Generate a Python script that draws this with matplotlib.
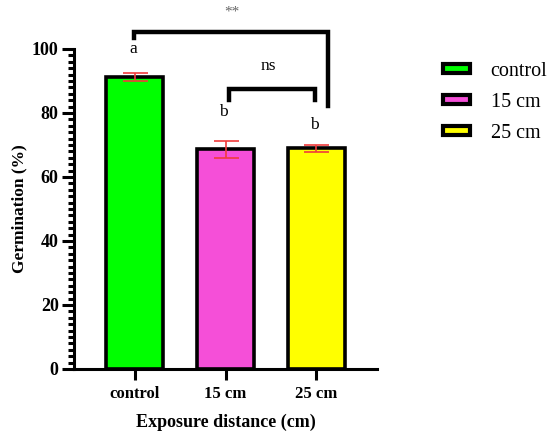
import matplotlib
matplotlib.use("Agg")
import matplotlib.pyplot as plt
from matplotlib.patches import Patch
from matplotlib.ticker import MultipleLocator

plt.rcParams['font.family'] = ['Liberation Serif', 'DejaVu Serif']

groups = ['control', '15 cm', '25 cm']
means = [91.3, 68.6, 68.9]
errs = [1.3, 2.6, 1.0]
colors = ['#00ff00', '#f54fd8', '#ffff00']
letters = ['a', 'b', 'b']
letter_y = [99.9, 80.4, 76.2]

fig = plt.figure(figsize=(5.5, 4.32), dpi=100)
ax = fig.add_axes([0.1345, 0.146, 0.551, 0.7407])

x = list(range(len(groups)))
ax.bar(x, means, width=0.63, color=colors, edgecolor='black', linewidth=2.6, zorder=2)
ax.errorbar(x, means, yerr=errs, fmt='none', ecolor='#f03c3c', elinewidth=1.2,
            capsize=9, capthick=1.2, zorder=3)

ax.set_xlim(-0.674, 2.674)
ax.set_ylim(0, 100)
ax.yaxis.set_major_locator(MultipleLocator(20))
ax.yaxis.set_minor_locator(MultipleLocator(2))
ax.set_xticks(x)
ax.set_xticklabels(groups, fontweight='bold', fontsize=12)
for lab in ax.get_yticklabels():
    lab.set_fontweight('bold')
    lab.set_fontsize(13)
ax.tick_params(axis='y', which='major', length=9, width=2.2, pad=2)
ax.tick_params(axis='y', which='minor', length=4, width=2.2)
ax.tick_params(axis='x', which='major', length=8, width=2.2, pad=4)
for s in ['top', 'right']:
    ax.spines[s].set_visible(False)
for s in ['left', 'bottom']:
    ax.spines[s].set_linewidth(2.2)

ax.set_ylabel('Germination (%)', fontweight='bold', fontsize=12.5, labelpad=3)
ax.set_xlabel('Exposure distance (cm)', fontweight='bold', fontsize=13, labelpad=9)

for xi, t, yl in zip(x, letters, letter_y):
    ax.text(xi - 0.02, yl, t, ha='center', va='center', fontsize=12.5)

# significance brackets
ax.plot([-0.01, -0.01, 2.13, 2.13], [103.3, 105.2, 105.2, 82.3], color='black',
        lw=3.2, clip_on=False, solid_joinstyle='miter')
ax.text(1.07, 111.5, '**', ha='center', va='center', fontsize=11, color='#666666')
ax.plot([1.04, 1.04, 1.99, 1.99], [84.1, 87.5, 87.5, 84.1], color='black',
        lw=3.2, clip_on=False, solid_joinstyle='miter')
ax.text(1.47, 94.8, 'ns', ha='center', va='center', fontsize=12.5)

handles = [Patch(facecolor=c, edgecolor='black', linewidth=3) for c in colors]
fig.legend(handles, groups, loc='upper left', bbox_to_anchor=(0.773, 0.899),
           frameon=False, fontsize=14.5, handlelength=1.35, handleheight=0.35,
           labelspacing=0.6, handletextpad=1.0)

fig.savefig('out.png', dpi=100)
